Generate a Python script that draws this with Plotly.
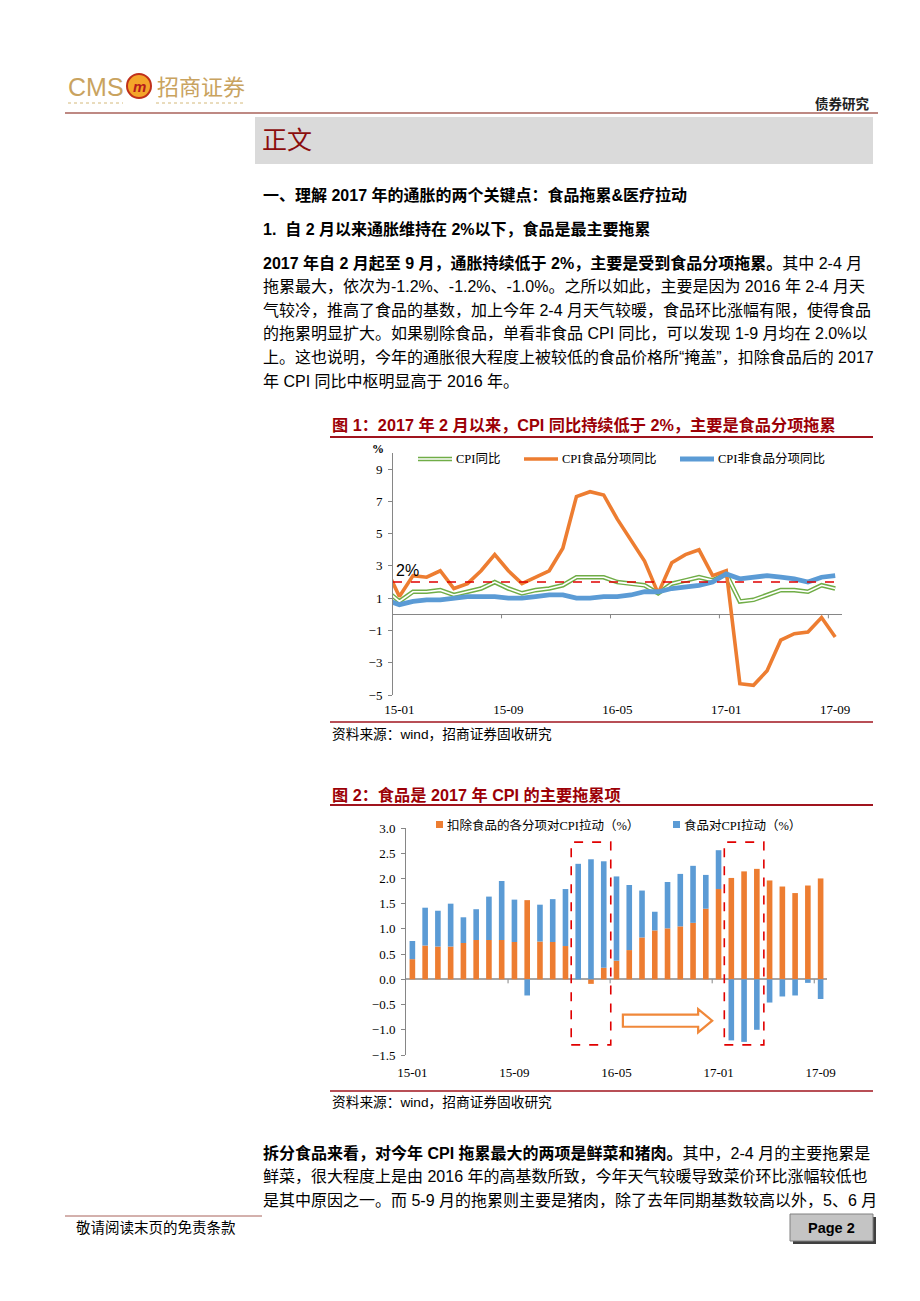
import plotly.graph_objects as go

# ---------------- data ----------------
# Figure 1: CPI YoY (%), month categories (14-12 lies just left of the axis and is clipped)
months1 = ["14-12",
           "15-01", "15-02", "15-03", "15-04", "15-05", "15-06", "15-07", "15-08", "15-09", "15-10", "15-11", "15-12",
           "16-01", "16-02", "16-03", "16-04", "16-05", "16-06", "16-07", "16-08", "16-09", "16-10", "16-11", "16-12",
           "17-01", "17-02", "17-03", "17-04", "17-05", "17-06", "17-07", "17-08", "17-09"]
cpi_yoy = [1.5,
           0.8, 1.4, 1.4, 1.5, 1.2, 1.4, 1.6, 2.0, 1.6, 1.3, 1.5, 1.6,
           1.8, 2.3, 2.3, 2.3, 2.0, 1.9, 1.8, 1.3, 1.9, 2.1, 2.3, 2.1,
           2.5, 0.8, 0.9, 1.2, 1.5, 1.5, 1.4, 1.8, 1.6]
food_yoy = [2.9,
            1.1, 2.4, 2.3, 2.7, 1.6, 1.9, 2.7, 3.7, 2.7, 1.9, 2.3, 2.7,
            4.1, 7.3, 7.6, 7.4, 5.9, 4.6, 3.3, 1.3, 3.2, 3.7, 4.0, 2.4,
            2.7, -4.3, -4.4, -3.5, -1.6, -1.2, -1.1, -0.2, -1.4]
nonfood_yoy = [0.9,
               0.6, 0.8, 0.9, 0.9, 1.0, 1.1, 1.1, 1.1, 1.0, 1.0, 1.1, 1.2,
               1.2, 1.0, 1.0, 1.1, 1.1, 1.2, 1.4, 1.4, 1.6, 1.7, 1.8, 2.0,
               2.5, 2.2, 2.3, 2.4, 2.3, 2.2, 2.0, 2.3, 2.4]
threshold = 2.0

# Figure 2: contributions to CPI (%)
months2 = months1[1:]
nonfood_pull = [0.40, 0.67, 0.65, 0.65, 0.72, 0.78, 0.78, 0.78, 0.74, 1.57, 0.75, 0.74,
                0.66, 0.00, -0.09, 0.23, 0.37, 0.58, 0.83, 0.97, 1.01, 1.05, 1.12, 1.40,
                1.79, 2.01, 2.14, 2.19, 1.96, 1.84, 1.71, 1.86, 2.00]
food_pull = [0.36, 0.75, 0.71, 0.85, 0.51, 0.61, 0.86, 1.17, 0.84, -0.32, 0.73, 0.85,
             1.13, 2.29, 2.38, 2.11, 1.67, 1.29, 0.93, 0.37, 0.92, 1.04, 1.13, 0.67,
             0.77, -1.21, -1.24, -1.00, -0.46, -0.34, -0.32, -0.07, -0.39]
highlight1 = ["16-02", "16-04"]
highlight2 = ["17-02", "17-04"]

tick_labels = ["15-01", "15-09", "16-05", "17-01", "17-09"]

# ---------------- helpers ----------------
# the page body has an 8px margin: the figure is placed at (8, 8) in the window
OFF = 8
W, H = 920 - 2 * OFF, 1301 - 2 * OFF
def px(x): return (x - OFF) / W
def py(y): return 1 - (y - OFF) / H

SANS = "Arial, 'Liberation Sans', 'Noto Sans CJK SC', sans-serif"
SERIF = "'Times New Roman', 'Liberation Serif', 'Noto Sans CJK SC', serif"
DARKRED = "#9c0006"

fig = go.Figure()

x1 = [months2.index(m) if m in months2 else -1 for m in months1]
x2 = [months2.index(m) for m in months2]
tickvals = [months2.index(t) for t in tick_labels]

# chart 1 lines
fig.add_trace(go.Scatter(x=x1, y=cpi_yoy, mode="lines", line=dict(color="#70ad47", width=4.6),
                         xaxis="x", yaxis="y", hoverinfo="skip"))
fig.add_trace(go.Scatter(x=x1, y=cpi_yoy, mode="lines", line=dict(color="white", width=1.7),
                         xaxis="x", yaxis="y", hoverinfo="skip"))
fig.add_trace(go.Scatter(x=x1, y=food_yoy, mode="lines", line=dict(color="#ed7d31", width=3.6),
                         xaxis="x", yaxis="y", hoverinfo="skip"))
fig.add_trace(go.Scatter(x=x1, y=nonfood_yoy, mode="lines", line=dict(color="#5b9bd5", width=4.8),
                         xaxis="x", yaxis="y", hoverinfo="skip"))

# chart 2 bars
fig.add_trace(go.Bar(x=x2, y=nonfood_pull, marker=dict(color="#ed7d31", line=dict(width=0)),
                     width=0.44, xaxis="x2", yaxis="y2", hoverinfo="skip"))
fig.add_trace(go.Bar(x=x2, y=food_pull, marker=dict(color="#5b9bd5", line=dict(width=0)),
                     width=0.44, xaxis="x2", yaxis="y2", hoverinfo="skip"))

AX = "#868686"
tickfont = dict(family=SERIF, size=13, color="#000")
fig.update_layout(
    template="none", width=W, height=H, margin=dict(l=0, r=0, t=0, b=0),
    paper_bgcolor="white", plot_bgcolor="rgba(0,0,0,0)", showlegend=False,
    barmode="relative",
    xaxis=dict(domain=[px(393), px(842)], range=[-0.47, 32.5], anchor="y",
               tickmode="array", tickvals=tickvals, ticktext=tick_labels,
               showline=False, ticks="", showgrid=False, zeroline=False,
               tickfont=tickfont, ticklabelstandoff=5, automargin=False),
    yaxis=dict(domain=[py(695), py(453)], range=[-5, 10], anchor="x",
               tickmode="array", tickvals=[-5, -3, -1, 1, 3, 5, 7, 9],
               showline=True, linecolor=AX, linewidth=1, ticks="outside", ticklen=4, tickcolor=AX,
               zeroline=True, zerolinecolor=AX, zerolinewidth=1, showgrid=False,
               tickfont=tickfont, ticklabelstandoff=3, automargin=False),
    xaxis2=dict(domain=[px(406), px(827)], range=[-0.5, 32.5], anchor="y2",
                tickmode="array", tickvals=tickvals, ticktext=tick_labels,
                showline=False, ticks="", showgrid=False, zeroline=False,
                tickfont=tickfont, ticklabelstandoff=8, automargin=False),
    yaxis2=dict(domain=[py(1055), py(828)], range=[-1.5, 3.0], anchor="x2",
                tick0=-1.5, dtick=0.5, tickformat=".1f",
                showline=True, linecolor=AX, linewidth=1, ticks="outside", ticklen=4, tickcolor=AX,
                zeroline=True, zerolinecolor="#a6a6a6", zerolinewidth=1.5, showgrid=False,
                tickfont=tickfont, ticklabelstandoff=3, automargin=False),
)

shapes = []
# category boundary ticks on the zero lines
for tv in tickvals[1:]:
    for xr, yr in (("x", "y"), ("x2", "y2")):
        shapes.append(dict(type="line", xref=xr, yref=yr, x0=tv - 0.5, x1=tv - 0.5,
                           ysizemode="pixel", yanchor=0, y0=0, y1=-4, line=dict(color=AX, width=1)))
# 2% threshold line
shapes.append(dict(type="line", xref="x", yref="y", x0=-0.47, x1=x2[-1], y0=threshold, y1=threshold,
                   line=dict(color="#e00000", width=1.6, dash="dash"), layer="above"))
# highlight boxes in chart 2
for a, b in (highlight1, highlight2):
    shapes.append(dict(type="rect", xref="x2", yref="y2",
                       x0=months2.index(a) - 0.55, x1=months2.index(b) + 0.55, y0=-1.30, y1=2.72,
                       line=dict(color="#e00000", width=1.6, dash="dash"), fillcolor="rgba(0,0,0,0)"))
# hollow arrow
ax0, ax1, axh = 16.5, 23.5, 22.4
shapes.append(dict(type="path", xref="x2", yref="y2",
                   path=f"M {ax0},-0.70 L {axh},-0.70 L {axh},-0.59 L {ax1},-0.82 L {axh},-1.05 L {axh},-0.94 L {ax0},-0.94 Z",
                   line=dict(color="#f0883a", width=2.2), fillcolor="white"))

# page decorations
def hline(x0, x1, y, color, width=1.0, dash=None):
    d = dict(type="line", xref="paper", yref="paper", x0=px(x0), x1=px(x1), y0=py(y), y1=py(y),
             line=dict(color=color, width=width))
    if dash:
        d["line"]["dash"] = dash
    shapes.append(d)

def rect(x0, y0, x1, y1, fill, line="rgba(0,0,0,0)", lw=0):
    shapes.append(dict(type="rect", xref="paper", yref="paper", x0=px(x0), x1=px(x1), y0=py(y1), y1=py(y0),
                       fillcolor=fill, line=dict(color=line, width=lw), layer="below"))

# header
hline(68, 123, 103, "#d4b97a", 1, "dot")
hline(156, 246, 103, "#d4b97a", 1, "dot")
shapes.append(dict(type="circle", xref="paper", yref="paper", x0=px(127), x1=px(151), y0=py(98), y1=py(74),
                   fillcolor="#f4a52a", line=dict(color="#c0301a", width=2)))
hline(65, 878, 113, "#a8625a", 1.5)
rect(255, 117, 873, 164, "#dadada")
# chart rules
hline(330, 873, 437, "#a0141e", 2)
hline(330, 873, 722, "#a0141e", 1.5)
hline(330, 873, 805, "#a0141e", 2)
hline(330, 873, 1091, "#a0141e", 1.5)
# footer
hline(65, 262, 1216, "#a8625a", 1)
rect(793, 1217, 876, 1244, "#404040")
rect(790, 1214, 873, 1241, "#c4c4c4", "#808080", 1)

# chart 1 legend samples
shapes.append(dict(type="line", xref="paper", yref="paper", x0=px(418), x1=px(452), y0=py(459), y1=py(459),
                   line=dict(color="#70ad47", width=4.6)))
shapes.append(dict(type="line", xref="paper", yref="paper", x0=px(418), x1=px(452), y0=py(459), y1=py(459),
                   line=dict(color="white", width=1.7)))
shapes.append(dict(type="line", xref="paper", yref="paper", x0=px(524), x1=px(558), y0=py(459), y1=py(459),
                   line=dict(color="#ed7d31", width=3.6)))
shapes.append(dict(type="line", xref="paper", yref="paper", x0=px(680), x1=px(714), y0=py(459), y1=py(459),
                   line=dict(color="#5b9bd5", width=4.8)))
# chart 2 legend squares
rect(436, 821, 443, 828, "#ed7d31")
rect(673, 821, 680, 828, "#5b9bd5")

fig.update_layout(shapes=shapes)

def T(x, y, s, size=16, color="#000", family=SANS, xanchor="left", yanchor="middle"):
    fig.add_annotation(x=px(x), y=py(y), xref="paper", yref="paper", text=s, showarrow=False,
                       font=dict(size=size, color=color, family=family),
                       xanchor=xanchor, yanchor=yanchor, align="left", borderpad=0)

# header text
T(67, 87, "CMS", 25, "#c9a35f", SANS)
T(139, 86, "<b><i>m</i></b>", 15, "#b71c1c", SANS, xanchor="center")
T(156, 87, "招商证券", 22, "#c9a35f", SANS)
T(871, 104, "<b>债券研究</b>", 13.5, "#222", SANS, xanchor="right")
T(261, 140, "正文", 25, "#8b0d0d", SANS)

# headings and paragraph
T(262, 195, "<b>一、理解 2017 年的通胀的两个关键点：食品拖累&医疗拉动</b>", 16)
T(262, 229, "<b>1.  自 2 月以来通胀维持在 2%以下，食品是最主要拖累</b>", 16)
para1 = [
    "<b>2017 年自 2 月起至 9 月，通胀持续低于 2%，主要是受到食品分项拖累。</b>其中 2-4 月",
    "拖累最大，依次为-1.2%、-1.2%、-1.0%。之所以如此，主要是因为 2016 年 2-4 月天",
    "气较冷，推高了食品的基数，加上今年 2-4 月天气较暖，食品环比涨幅有限，使得食品",
    "的拖累明显扩大。如果剔除食品，单看非食品 CPI 同比，可以发现 1-9 月均在 2.0%以",
    "上。这也说明，今年的通胀很大程度上被较低的食品价格所“掩盖”，扣除食品后的 2017",
    "年 CPI 同比中枢明显高于 2016 年。",
]
for i, s in enumerate(para1):
    T(262, 263 + i * 23.6, s, 16)

# chart 1 texts
T(331, 425, "<b>图 1：2017 年 2 月以来，CPI 同比持续低于 2%，主要是食品分项拖累</b>", 16.2, DARKRED)
T(378, 449, "<b>%</b>", 12, "#000", SERIF, xanchor="center")
T(455, 459, "CPI同比", 12.5, "#000", SERIF)
T(561, 459, "CPI食品分项同比", 12.5, "#000", SERIF)
T(717, 459, "CPI非食品分项同比", 12.5, "#000", SERIF)
T(395, 570, "2%", 16, "#000", SANS)
T(331, 734, "资料来源：wind，招商证券固收研究", 13.7)

# chart 2 texts
T(331, 795, "<b>图 2：食品是 2017 年 CPI 的主要拖累项</b>", 16.2, DARKRED)
T(446, 825, "扣除食品的各分项对CPI拉动（%）", 12.5, "#000", SERIF)
T(683, 825, "食品对CPI拉动（%）", 12.5, "#000", SERIF)
T(331, 1102, "资料来源：wind，招商证券固收研究", 13.7)

# paragraph 2
para2 = [
    "<b>拆分食品来看，对今年 CPI 拖累最大的两项是鲜菜和猪肉。</b>其中，2-4 月的主要拖累是",
    "鲜菜，很大程度上是由 2016 年的高基数所致，今年天气较暖导致菜价环比涨幅较低也",
    "是其中原因之一。而 5-9 月的拖累则主要是猪肉，除了去年同期基数较高以外，5、6 月",
]
for i, s in enumerate(para2):
    T(262, 1153 + i * 23.6, s, 16)

# footer
T(75, 1228, "敬请阅读末页的免责条款", 14.5)
T(831.5, 1228, "<b>Page 2</b>", 14.5, "#000", SANS, xanchor="center")

fig.write_html("out.html")
